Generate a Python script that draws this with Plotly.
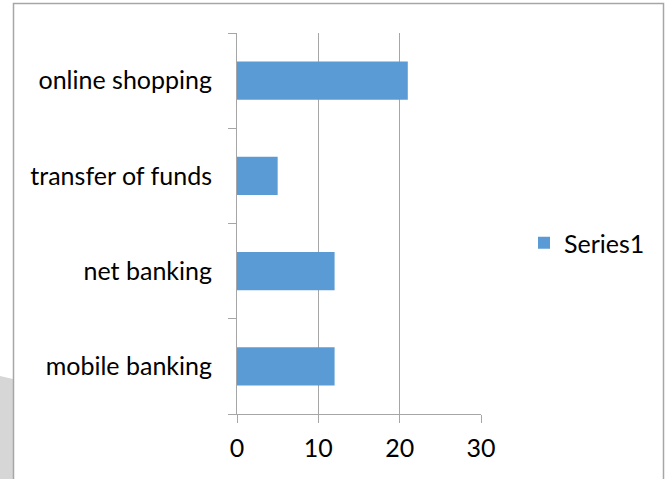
import plotly.graph_objects as go

categories = ["mobile banking", "net banking", "transfer of funds", "online shopping"]
values = [12, 12, 5, 21]
series_name = "Series1"
x_ticks = [0, 10, 20, 30]

W, H = 670, 479
ML, MR, MT, MB = 237, 189, 33, 65
PW = W - ML - MR
PH = H - MT - MB


def px(p):
    return (p - ML) / PW


def py(q):
    return (H - MB - q) / PH


FONT = "Lato, Carlito, Calibri, sans-serif"
GRID = "#a6a6a6"
FS = 25

fig = go.Figure()
fig.add_trace(go.Bar(
    x=values, y=categories, orientation="h", name=series_name,
    marker=dict(color="#5b9bd5", line=dict(width=0)),
    showlegend=True,
))

fig.update_layout(
    width=W, height=H,
    margin=dict(l=ML, r=MR, t=MT, b=MB, pad=0),
    paper_bgcolor="white", plot_bgcolor="white",
    font=dict(family=FONT, size=FS, color="black"),
    bargap=0.6,
    xaxis=dict(
        range=[0, 30], tickvals=x_ticks, ticktext=[str(v) for v in x_ticks],
        showgrid=True, gridcolor=GRID, gridwidth=1,
        zeroline=False, showline=True, linecolor=GRID, linewidth=1,
        ticks="outside", ticklen=8, tickcolor=GRID, tickwidth=1,
        ticklabelstandoff=4,
        tickfont=dict(size=FS, family=FONT, color="black"),
        fixedrange=True,
    ),
    yaxis=dict(
        type="category", categoryorder="array", categoryarray=categories,
        showgrid=False, zeroline=False, showline=True, linecolor=GRID, linewidth=1,
        ticks="outside", ticklen=8, tickcolor=GRID, tickwidth=1,
        tickson="boundaries", ticklabelstandoff=19,
        tickfont=dict(size=FS, family=FONT, color="black"),
        fixedrange=True,
    ),
    legend=dict(
        xref="container", yref="container", x=524 / W, y=1 - 243 / H,
        xanchor="left", yanchor="middle",
        font=dict(size=FS, family=FONT, color="black"),
        bgcolor="rgba(0,0,0,0)", itemwidth=30,
    ),
    shapes=[
        dict(type="path", xref="paper", yref="paper",
             path=f"M {px(0)} {py(376)} L {px(13)} {py(379)} L {px(13)} {py(485)} L {px(0)} {py(485)} Z",
             fillcolor="#d6d6d6", line=dict(width=0), layer="below"),
        dict(type="rect", xref="paper", yref="paper",
             x0=px(13.5), x1=px(663.5), y0=py(3.5), y1=py(490),
             line=dict(color="#a6a6a6", width=1.5), fillcolor="rgba(0,0,0,0)", layer="below"),
    ],
)

fig.write_html("out.html")
